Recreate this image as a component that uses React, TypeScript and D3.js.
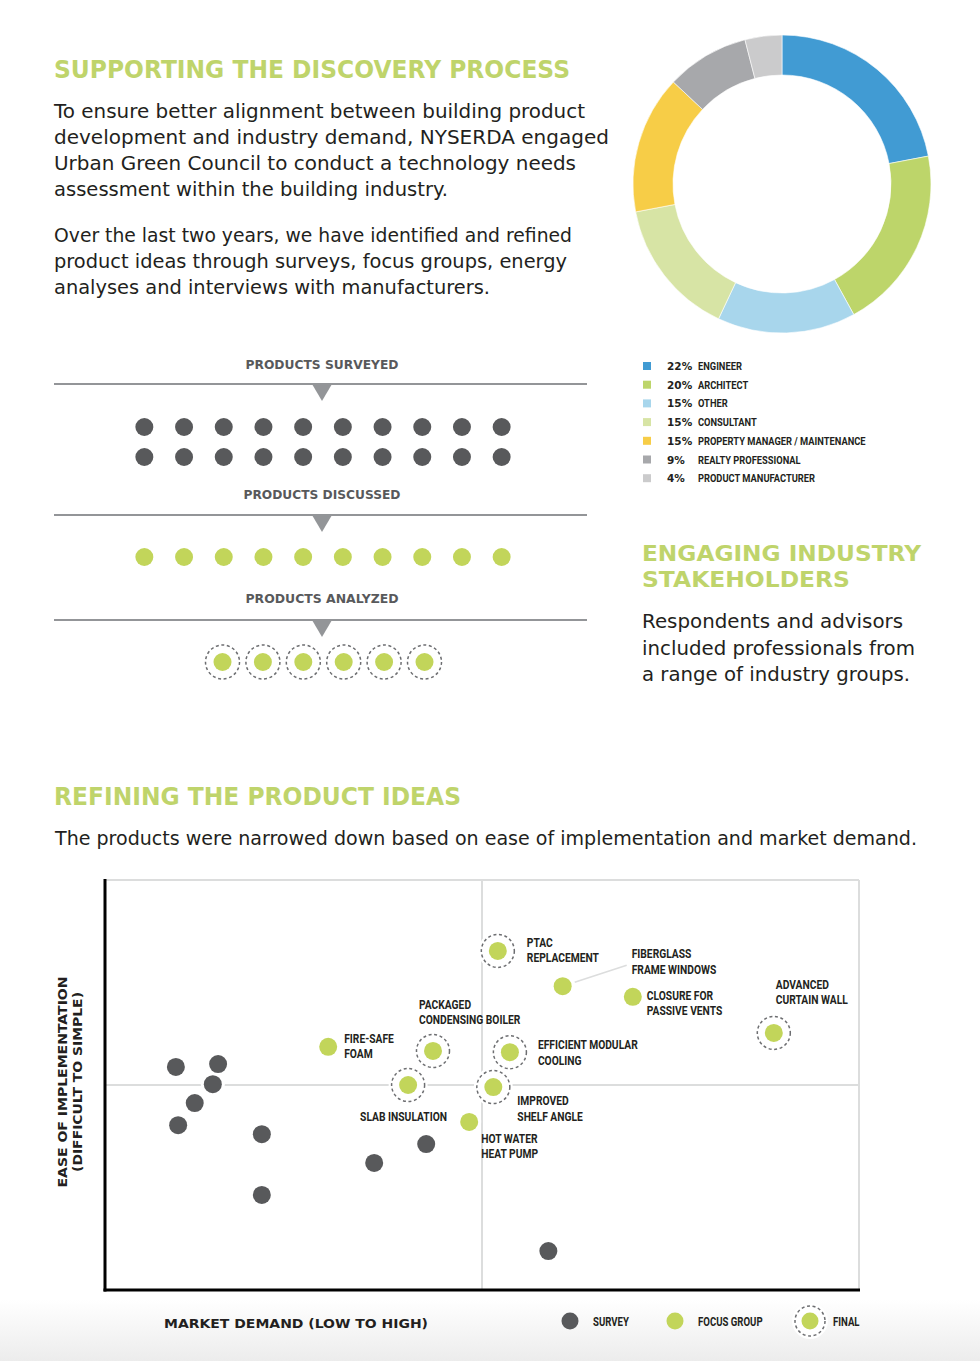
import React, { useEffect } from "react";
import * as d3 from "d3";

const W = 980;
const H = 1361;

// ---------- DATA ----------
const stakeholderCategories = [
  "ENGINEER",
  "ARCHITECT",
  "OTHER",
  "CONSULTANT",
  "PROPERTY MANAGER / MAINTENANCE",
  "REALTY PROFESSIONAL",
  "PRODUCT MANUFACTURER",
];
const stakeholderShares = [22, 20, 15, 15, 15, 9, 4];
const stakeholderColors = ["#419bd3", "#bdd56a", "#a8d6ec", "#d7e4a5", "#f7cd47", "#a7a8ab", "#cbcbcc"];

const funnelStages = ["PRODUCTS SURVEYED", "PRODUCTS DISCUSSED", "PRODUCTS ANALYZED"];
const funnelCounts = [20, 10, 6];

// scatter: market demand (x, 0-10) vs ease of implementation (y, 0-10)
const surveyX = [0.94, 1.5, 1.43, 1.19, 0.97, 2.08, 2.08, 3.57, 4.26, 5.88];
const surveyY = [5.44, 5.51, 5.02, 4.56, 4.02, 3.8, 2.32, 3.1, 3.56, 0.95];

const focusNames = ["FIRE-SAFE\nFOAM", "FIBERGLASS\nFRAME WINDOWS", "CLOSURE FOR\nPASSIVE VENTS", "HOT WATER\nHEAT PUMP"];
const focusX = [2.96, 6.07, 7.0, 4.83];
const focusY = [5.93, 7.41, 7.15, 4.1];

const finalNames = [
  "PTAC\nREPLACEMENT",
  "PACKAGED\nCONDENSING BOILER",
  "EFFICIENT MODULAR\nCOOLING",
  "SLAB INSULATION",
  "IMPROVED\nSHELF ANGLE",
  "ADVANCED\nCURTAIN WALL",
];
const finalX = [5.21, 4.35, 5.37, 4.02, 5.15, 8.87];
const finalY = [8.27, 5.83, 5.8, 5.0, 4.95, 6.27];

const legendItems = ["SURVEY", "FOCUS GROUP", "FINAL"];

// ---------- LAYOUT / STYLE ----------
const GREEN_HEAD = "#bfd46b";
const GREEN_DOT = "#c2d55a";
const DARK = "#58595b";
const GRID = "#dcdddd";
const INK = "#231f20";

const HEAD_FONT = "'DejaVu Sans', sans-serif";
const BODY_FONT = "'DejaVu Sans', sans-serif";
const COND_FONT = "Roboto, 'DejaVu Sans Condensed', sans-serif";

// label offsets relative to point (px): [dx, dy of first baseline]
const labelOffsets: Record<string, [number, number]> = {
  "FIRE-SAFE\nFOAM": [16, -4],
  "FIBERGLASS\nFRAME WINDOWS": [69, -28],
  "CLOSURE FOR\nPASSIVE VENTS": [14, 3],
  "HOT WATER\nHEAT PUMP": [12, 21],
  "PTAC\nREPLACEMENT": [29, -4],
  "PACKAGED\nCONDENSING BOILER": [-14, -42],
  "EFFICIENT MODULAR\nCOOLING": [28, -3],
  "SLAB INSULATION": [-48, 36],
  "IMPROVED\nSHELF ANGLE": [24, 18],
  "ADVANCED\nCURTAIN WALL": [2, -44],
};

type TLProps = { x: number; y: number; len?: number; size: number; weight?: any; fill: string; font: string; anchor?: string; children: string };
const TL = ({ x, y, len, size, weight = "normal", fill, font, anchor = "start", children }: TLProps) => (
  <text
    x={x}
    y={y}
    fontSize={size}
    fontWeight={weight}
    fill={fill}
    fontFamily={font}
    textAnchor={anchor as any}
    {...(len ? { textLength: len, lengthAdjust: "spacingAndGlyphs" } : {})}
  >
    {children}
  </text>
);

const CondLabel = ({ x, y, text, size = 13, sx = 0.79, lh = 15.5 }: { x: number; y: number; text: string; size?: number; sx?: number; lh?: number }) => (
  <g transform={`translate(${x},${y}) scale(${sx},1)`}>
    <text fontFamily={COND_FONT} fontWeight={700} fontSize={size} fill={INK}>
      {text.split("\n").map((t, i) => (
        <tspan key={i} x={0} dy={i === 0 ? 0 : lh}>
          {t}
        </tspan>
      ))}
    </text>
  </g>
);

const FinalMark = ({ cx, cy, r = 9, ring = 16.5 }: { cx: number; cy: number; r?: number; ring?: number }) => (
  <g>
    <circle cx={cx} cy={cy} r={ring + 3} fill="#fff" />
    <circle cx={cx} cy={cy} r={ring} fill="none" stroke="#6d6e71" strokeWidth={1.5} strokeDasharray="3 2.6" />
    <circle cx={cx} cy={cy} r={r} fill={GREEN_DOT} />
  </g>
);

export default function App() {
  useEffect(() => {
    document.body.style.margin = "0";
  }, []);

  // donut
  const pie = d3.pie<number>().sort(null).value((d) => d)(stakeholderShares);
  const arc = d3.arc<d3.PieArcDatum<number>>().innerRadius(109).outerRadius(149);
  const dcx = 782;
  const dcy = 184;

  // funnel
  const funnelLabelY = [369, 499, 603];
  const funnelLineY = [384, 515, 620];
  const funnelRows = [[427, 457], [557], [662]];
  const funnelCenter = 323;

  // scatter
  const x = d3.scaleLinear().domain([0, 10]).range([105, 859]);
  const y = d3.scaleLinear().domain([0, 10]).range([1290, 880]);

  const bodyP1 = [
    ["To ensure better alignment between building product", 531],
    ["development and industry demand, NYSERDA engaged", 555],
    ["Urban Green Council to conduct a technology needs", 522],
    ["assessment within the building industry.", 394],
  ] as [string, number][];
  const bodyP2 = [
    ["Over the last two years, we have identified and refined", 518],
    ["product ideas through surveys, focus groups, energy", 513],
    ["analyses and interviews with manufacturers.", 436],
  ] as [string, number][];
  const bodyRight = [
    ["Respondents and advisors", 261],
    ["included professionals from", 273],
    ["a range of industry groups.", 268],
  ] as [string, number][];

  return (
    <svg width={W} height={H} viewBox={`0 0 ${W} ${H}`} style={{ display: "block" }}>
      <defs>
        <linearGradient id="bottomFade" x1="0" y1="0" x2="0" y2="1">
          <stop offset="0" stopColor="#ffffff" />
          <stop offset="1" stopColor="#ececec" />
        </linearGradient>
      </defs>
      <rect x={0} y={0} width={W} height={H} fill="#fff" />
      <rect x={0} y={1300} width={W} height={61} fill="url(#bottomFade)" />

      {/* ---------- top-left text ---------- */}
      <TL x={54} y={78} len={516} size={24} weight="bold" fill={GREEN_HEAD} font={HEAD_FONT}>
        SUPPORTING THE DISCOVERY PROCESS
      </TL>
      {bodyP1.map(([t, l], i) => (
        <TL key={t} x={54} y={118 + i * 26} len={l} size={19} fill={INK} font={BODY_FONT}>
          {t}
        </TL>
      ))}
      {bodyP2.map(([t, l], i) => (
        <TL key={t} x={54} y={242 + i * 26} len={l} size={19} fill={INK} font={BODY_FONT}>
          {t}
        </TL>
      ))}

      {/* ---------- donut ---------- */}
      <g transform={`translate(${dcx},${dcy})`}>
        {pie.map((p, i) => (
          <path key={i} d={arc(p) as string} fill={stakeholderColors[i]} stroke="#fff" strokeWidth={0.6} />
        ))}
      </g>

      {/* donut legend */}
      {stakeholderCategories.map((c, i) => {
        const ly = 366 + i * 18.7;
        return (
          <g key={c}>
            <rect x={643} y={ly - 4} width={8} height={8} fill={stakeholderColors[i]} />
            <text x={667} y={ly + 4} fontFamily={HEAD_FONT} fontWeight="bold" fontSize={10.5} fill={INK}>
              {stakeholderShares[i]}%
            </text>
            <CondLabel x={698} y={ly + 4} text={c} size={11.5} sx={0.81} />
          </g>
        );
      })}

      {/* right heading */}
      <TL x={642} y={561} len={279} size={22} weight="bold" fill={GREEN_HEAD} font={HEAD_FONT}>
        ENGAGING INDUSTRY
      </TL>
      <TL x={642} y={587} len={208} size={22} weight="bold" fill={GREEN_HEAD} font={HEAD_FONT}>
        STAKEHOLDERS
      </TL>
      {bodyRight.map(([t, l], i) => (
        <TL key={t} x={642} y={628 + i * 26.5} len={l} size={19} fill={INK} font={BODY_FONT}>
          {t}
        </TL>
      ))}

      {/* ---------- funnel ---------- */}
      {funnelStages.map((s, si) => {
        const n = funnelCounts[si];
        const rows = funnelRows[si];
        const perRow = Math.ceil(n / rows.length);
        const spacing = si === 2 ? 40.4 : 39.7;
        const xi = d3
          .scaleLinear()
          .domain([0, perRow - 1])
          .range([funnelCenter - ((perRow - 1) / 2) * spacing, funnelCenter + ((perRow - 1) / 2) * spacing]);
        const ly = funnelLineY[si];
        const dots = d3.range(n).map((k) => ({ cx: xi(k % perRow), cy: rows[Math.floor(k / perRow)] }));
        return (
          <g key={s}>
            <TL x={322} y={funnelLabelY[si]} anchor="middle" len={si === 1 ? 157 : 153} size={12} weight="bold" fill={DARK} font={HEAD_FONT}>
              {s}
            </TL>
            <line x1={54} x2={587} y1={ly} y2={ly} stroke="#939598" strokeWidth={2} />
            <path d={`M${312},${ly} L${332},${ly} L${322},${ly + 17} Z`} fill="#939598" />
            {dots.map((d, k) =>
              si === 0 ? (
                <circle key={k} cx={d.cx} cy={d.cy} r={9} fill={DARK} />
              ) : si === 1 ? (
                <circle key={k} cx={d.cx} cy={d.cy} r={9} fill={GREEN_DOT} />
              ) : (
                <FinalMark key={k} cx={d.cx + 0.5} cy={d.cy} r={9} ring={17} />
              )
            )}
          </g>
        );
      })}

      {/* ---------- bottom section text ---------- */}
      <TL x={54} y={805} len={407} size={24} weight="bold" fill={GREEN_HEAD} font={HEAD_FONT}>
        REFINING THE PRODUCT IDEAS
      </TL>
      <TL x={55} y={845} len={862} size={19} fill={INK} font={BODY_FONT}>
        The products were narrowed down based on ease of implementation and market demand.
      </TL>

      {/* ---------- scatter ---------- */}
      <g>
        <line x1={x(0)} x2={x(10)} y1={y(10)} y2={y(10)} stroke={GRID} strokeWidth={2} />
        <line x1={x(10)} x2={x(10)} y1={y(10)} y2={y(0)} stroke={GRID} strokeWidth={2} />
        <line x1={x(0)} x2={x(10)} y1={y(5)} y2={y(5)} stroke={GRID} strokeWidth={2} />
        <line x1={x(5)} x2={x(5)} y1={y(10)} y2={y(0)} stroke={GRID} strokeWidth={2} />

        {/* leader line for fiberglass */}
        <line
          x1={x(focusX[1]) + 12}
          y1={y(focusY[1]) - 4}
          x2={x(focusX[1]) + 64}
          y2={y(focusY[1]) - 21}
          stroke={GRID}
          strokeWidth={1.5}
        />

        {surveyX.map((v, i) => (
          <circle key={"s" + i} cx={x(v)} cy={y(surveyY[i])} r={12} fill="#fff" />
        ))}
        {surveyX.map((v, i) => (
          <circle key={"sd" + i} cx={x(v)} cy={y(surveyY[i])} r={9} fill={DARK} />
        ))}

        {focusX.map((v, i) => (
          <g key={"f" + i}>
            <circle cx={x(v)} cy={y(focusY[i])} r={12} fill="#fff" />
            <circle cx={x(v)} cy={y(focusY[i])} r={9} fill={GREEN_DOT} />
          </g>
        ))}
        {finalX.map((v, i) => (
          <FinalMark key={"fn" + i} cx={x(v)} cy={y(finalY[i])} />
        ))}

        {focusNames.map((n, i) => {
          const [dx, dy] = labelOffsets[n];
          return <CondLabel key={n} x={x(focusX[i]) + dx} y={y(focusY[i]) + dy} text={n} />;
        })}
        {finalNames.map((n, i) => {
          const [dx, dy] = labelOffsets[n];
          return <CondLabel key={n} x={x(finalX[i]) + dx} y={y(finalY[i]) + dy} text={n} />;
        })}

        {/* axes */}
        <line x1={x(0)} x2={x(0)} y1={y(10) - 1} y2={y(0) + 1.5} stroke="#000" strokeWidth={3} />
        <line x1={x(0) - 1.5} x2={x(10) + 1} y1={y(0)} y2={y(0)} stroke="#000" strokeWidth={3} />

        <TL x={164} y={1328} len={264} size={13} weight="bold" fill={INK} font={HEAD_FONT}>
          MARKET DEMAND (LOW TO HIGH)
        </TL>
        <g transform={`translate(67,1082) rotate(-90)`}>
          <TL x={0} y={0} anchor="middle" len={211} size={13} weight="bold" fill={INK} font={HEAD_FONT}>
            EASE OF IMPLEMENTATION
          </TL>
          <TL x={0} y={15} anchor="middle" len={180} size={13} weight="bold" fill={INK} font={HEAD_FONT}>
            (DIFFICULT TO SIMPLE)
          </TL>
        </g>

        {/* legend */}
        <circle cx={570} cy={1321} r={8.5} fill={DARK} />
        <CondLabel x={593} y={1326} text={legendItems[0]} size={12} sx={0.8} />
        <circle cx={675} cy={1321} r={8.5} fill={GREEN_DOT} />
        <CondLabel x={698} y={1326} text={legendItems[1]} size={12} sx={0.8} />
        <FinalMark cx={810} cy={1321} r={8.5} ring={15} />
        <CondLabel x={833} y={1326} text={legendItems[2]} size={12} sx={0.8} />
      </g>
    </svg>
  );
}
